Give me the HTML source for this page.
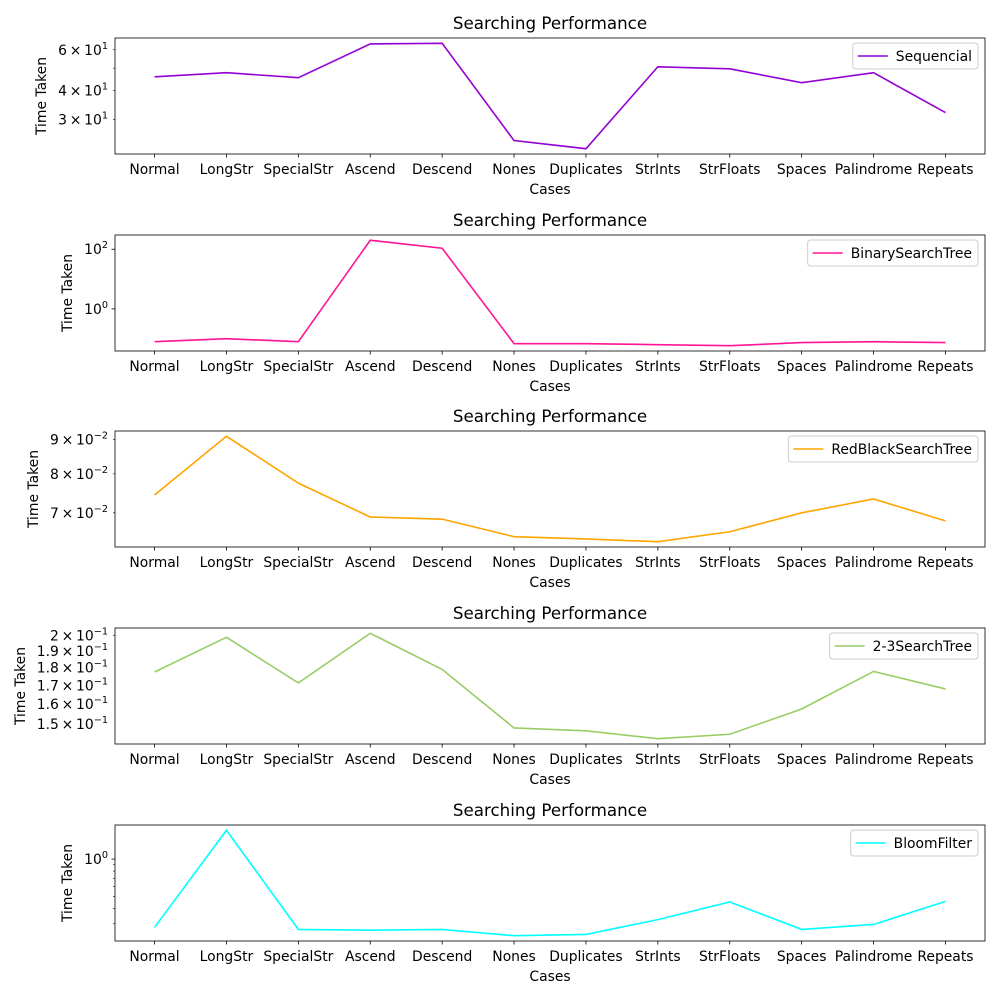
<!DOCTYPE html>
<html><head><meta charset="utf-8"><style>
html,body{margin:0;padding:0;background:#fff;}
svg{display:block;font-family:"DejaVu Sans","Liberation Sans",sans-serif;}
</style></head><body>
<svg id="chart" width="1000" height="1000" viewBox="0 0 1000 1000" xmlns="http://www.w3.org/2000/svg"></svg>
<script>
const categories = ["Normal","LongStr","SpecialStr","Ascend","Descend","Nones","Duplicates","StrInts","StrFloats","Spaces","Palindrome","Repeats"];
const seriesNames = ["Sequencial","BinarySearchTree","RedBlackSearchTree","2-3SearchTree","BloomFilter"];
const sequencialValues = [45.9,47.8,45.5,63.6,64.0,24.4,22.5,50.7,49.7,43.3,47.8,32.2];
const bstValues = [0.079,0.1,0.079,200,108,0.068,0.068,0.063,0.058,0.074,0.079,0.074];
const rbValues = [0.0744,0.0910,0.0775,0.0690,0.0685,0.0645,0.0640,0.0634,0.0656,0.0700,0.0734,0.0681];
const ttValues = [0.1775,0.1987,0.1713,0.2013,0.179,0.148,0.1466,0.1429,0.1450,0.1574,0.1778,0.168];
const bloomValues = [0.28,1.71,0.27,0.266,0.27,0.24,0.246,0.324,0.45,0.27,0.296,0.455];
const seqTickLabels = [[60,"6","1"],[40,"4","1"],[30,"3","1"]];
const bstTickLabels = [[100,"10","2"],[1,"10","0"]];
const rbTickLabels = [[0.09,"9","-2"],[0.08,"8","-2"],[0.07,"7","-2"]];
const ttTickLabels = [[0.2,"2","-1"],[0.19,"1.9","-1"],[0.18,"1.8","-1"],[0.17,"1.7","-1"],[0.16,"1.6","-1"],[0.15,"1.5","-1"]];
const bloomTickLabels = [[1,"10","0"]];

const panels = [
 {vals:sequencialValues, labels:seqTickLabels, color:"#9400d3", top:38, minors:true, step:1},
 {vals:bstValues, labels:bstTickLabels, color:"#ff1493", top:235, minors:false, step:2},
 {vals:rbValues, labels:rbTickLabels, color:"#ffa500", top:431, minors:true, step:1},
 {vals:ttValues, labels:ttTickLabels, color:"#99cc66", top:628, minors:true, step:1},
 {vals:bloomValues, labels:bloomTickLabels, color:"#00ffff", top:825, minors:true, step:1}
];
const svg = document.getElementById('chart');
const NS = "http://www.w3.org/2000/svg";
function mk(tag, attrs, parent){const e=document.createElementNS(NS,tag);for(const k in attrs)e.setAttribute(k,attrs[k]);(parent||svg).appendChild(e);return e;}
const L=115,R=985,H=116;
panels.forEach((p,pi)=>{
  const g = mk('g',{});
  
  
  const T=p.top, B=T+H;
  const logs=p.vals.map(v=>Math.log10(v));
  let mn=Math.min(...logs), mx=Math.max(...logs); const pad=(mx-mn)*0.05; mn-=pad; mx+=pad;
  const y=v=>B-(Math.log10(v)-mn)/(mx-mn)*H;
  const x=i=>L+(i+0.55)/12.1*(R-L);
  const t=mk('text',{x:(L+R)/2,y:T-9,'text-anchor':'middle','font-size':'16.7'},g);
  t.textContent='Searching Performance';
  
  
  const lo=Math.floor(mn), hi=Math.ceil(mx);
  for(let d=lo; d<=hi; d++){
    if(((d%p.step)+p.step)%p.step!==0) continue;
    for(let k=1;k<=9;k++){
      if(k>1 && !p.minors) continue;
      const v=k*Math.pow(10,d); const lv=Math.log10(v);
      if(lv<mn||lv>mx) continue;
      const yy=y(v); const len=k===1?3.5:2;
      mk('line',{x1:L-len,x2:L,y1:yy,y2:yy,stroke:'#000','stroke-width':k===1?0.8:0.6},g);
    }
  }
  let maxW=0;
  p.labels.forEach(lb=>{
    const tx=mk('text',{x:L-7,y:y(lb[0])+5,'text-anchor':'end','font-size':'13.9'},g);
    
    
    if(lb[1]==="10"){tx.appendChild(document.createTextNode('10'));}
    else{tx.appendChild(document.createTextNode(lb[1]+'\u2009\u00d7\u200910'));}
    const s=mk('tspan',{dy:'-6','font-size':'9.7'},tx); s.textContent=lb[2].replace('-','\u2212');
    maxW=Math.max(maxW,tx.getComputedTextLength());
  });
  const yl=mk('text',{transform:`translate(${L-7-maxW-12},${(T+B)/2}) rotate(-90)`,'text-anchor':'middle','font-size':'13.9'},g);
  yl.textContent='Time Taken';
  
  
  categories.forEach((c,i)=>{
    mk('line',{x1:x(i),x2:x(i),y1:B,y2:B+3.5,stroke:'#000','stroke-width':0.8},g);
    const tx=mk('text',{x:x(i),y:B+20,'text-anchor':'middle','font-size':'13.9'},g);
    tx.textContent=c;
    
    
  });
  const xl=mk('text',{x:(L+R)/2,y:B+40,'text-anchor':'middle','font-size':'13.9'},g);
  xl.textContent='Cases';
  
  
  const ln=mk('polyline',{points:p.vals.map((v,i)=>x(i)+','+y(v)).join(' '),fill:'none',stroke:p.color,'stroke-width':1.6},g);
  
  
  mk('rect',{x:L,y:T,width:R-L,height:H,fill:'none',stroke:'#000','stroke-width':0.8},g);
  const lg=mk('g',{},g);
  
  
  const box=mk('rect',{y:T+5,height:26,rx:3,fill:'#fff','fill-opacity':0.8,stroke:'#ccc','stroke-width':1},lg);
  const lt=mk('text',{y:T+23,'font-size':'13.9'},lg); lt.textContent=seriesNames[pi];
  const w=lt.getComputedTextLength();
  const bx=R-7-(w+49);
  box.setAttribute('x',bx); box.setAttribute('width',w+49);
  lt.setAttribute('x',bx+43);
  mk('line',{x1:bx+5,x2:bx+35,y1:T+18,y2:T+18,stroke:p.color,'stroke-width':1.6},lg);
});
</script>
</body></html>
